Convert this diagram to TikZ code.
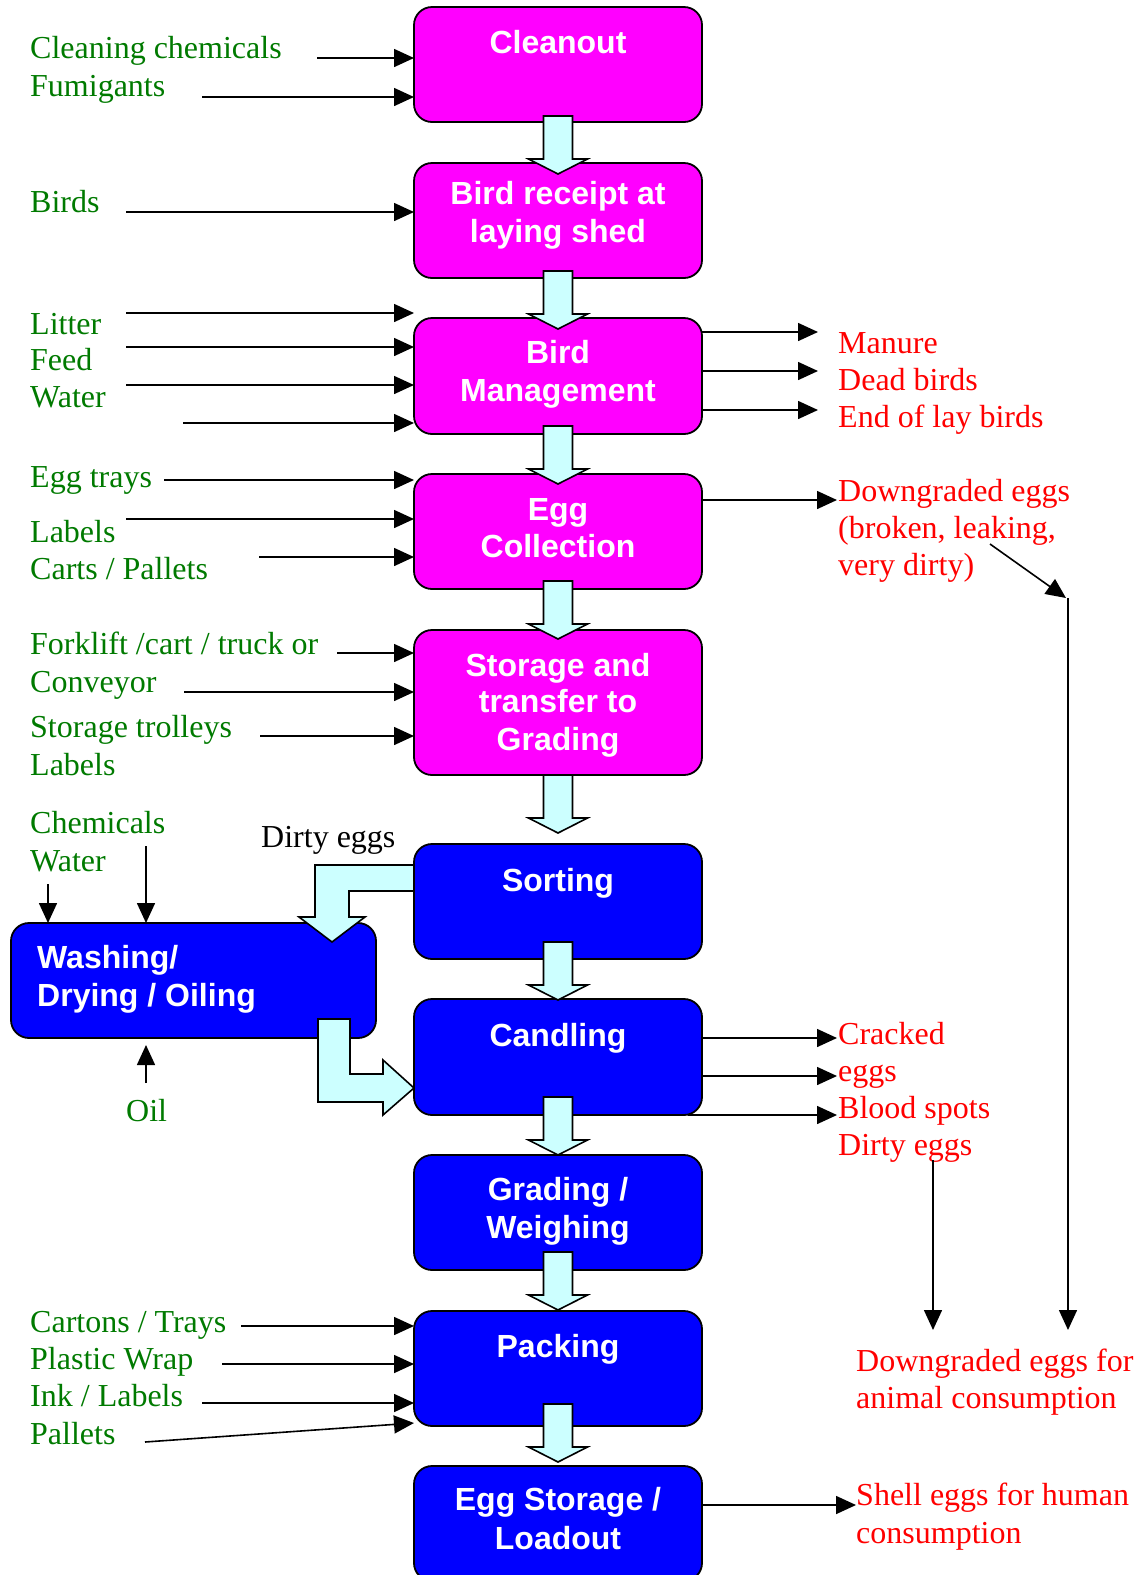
\documentclass[tikz,border=0pt]{standalone}
\usepackage{fontspec}
\setmainfont{Liberation Serif}
\newfontfamily\arialfont{Liberation Sans}
\usetikzlibrary{arrows.meta,calc}
\definecolor{procmag}{HTML}{FF00FF}
\definecolor{procblue}{HTML}{0000FF}
\definecolor{barfill}{HTML}{CCFFFF}
\definecolor{ingreen}{HTML}{007A00}
\definecolor{outred}{HTML}{FF0000}
\begin{document}
\begin{tikzpicture}[x=1pt,y=-1pt,
 proc/.style={draw=black, line width=1.8pt, rounded corners=18pt, minimum width=288pt, inner sep=0pt, outer sep=0pt},
 mag/.style={proc, fill=procmag},
 blu/.style={proc, fill=procblue},
 bt/.style={font=\arialfont\bfseries\fontsize{32}{38}\selectfont, text=white, anchor=base, inner sep=0pt},
 btl/.style={bt, anchor=base west},
 gt/.style={font=\fontsize{32}{37}\selectfont, text=ingreen, anchor=base west, inner sep=0pt},
 kt/.style={gt, text=black},
 rt/.style={gt, text=outred},
 conn/.style={line width=1.6pt, -{Triangle[length=20pt,width=18pt]}},
 barrow/.style={draw=black, line width=1.6pt, fill=barfill, line join=miter},
 bdown/.pic={\path[barrow] (-14.5,0) -- (14.5,0) -- (14.5,43) -- (29.5,43) -- (0,58) -- (-29.5,43) -- (-14.5,43) -- cycle;}
]
\useasboundingbox (0,0) rectangle (1139,1575);
\clip (0,0) rectangle (1139,1575);

% process boxes
\node[mag, minimum height=115pt] (cleanout) at (558,64.5) {};
\node[mag, minimum height=115pt] (receipt) at (558,220.5) {};
\node[mag, minimum height=116pt] (mgmt) at (558,376) {};
\node[mag, minimum height=115pt] (eggc) at (558,531.5) {};
\node[mag, minimum height=145pt] (store) at (558,702.5) {};
\node[blu, minimum height=115pt] (sorting) at (558,901.5) {};
\node[blu, minimum height=116pt] (candling) at (558,1057) {};
\node[blu, minimum height=115pt] (grading) at (558,1212.5) {};
\node[blu, minimum height=115pt] (packing) at (558,1368.5) {};
\node[blu, minimum height=115pt] (loadout) at (558,1523.5) {};
\node[blu, minimum height=115pt, minimum width=365pt] (washing) at (193.5,980.5) {};

% box texts
\node[bt] (t1) at (558,53) {Cleanout};
\node[bt] (t2a) at (558,204) {Bird receipt at};
\node[bt] (t2b) at (558,242) {laying shed};
\node[bt] (t3a) at (558,363) {Bird};
\node[bt] (t3b) at (558,401) {Management};
\node[bt] (t4a) at (558,520) {Egg};
\node[bt] (t4b) at (558,557) {Collection};
\node[bt] (t5a) at (558,676) {Storage and};
\node[bt] (t5b) at (558,712) {transfer to};
\node[bt] (t5c) at (558,750) {Grading};
\node[bt] (t6) at (558,891) {Sorting};
\node[bt] (t7) at (558,1046.5) {Candling};
\node[bt] (t8a) at (558,1200) {Grading /};
\node[bt] (t8b) at (558,1238) {Weighing};
\node[bt] (t9) at (558,1357) {Packing};
\node[bt] (t10a) at (558,1510.5) {Egg Storage /};
\node[bt] (t10b) at (558,1549) {Loadout};
\node[btl] (tw1) at (37,968) {Washing/};
\node[btl] (tw2) at (37,1006) {Drying / Oiling};

% block arrows between boxes
\pic at (558,116) {bdown};
\pic at (558,271) {bdown};
\pic at (558,426) {bdown};
\pic at (558,581) {bdown};
\pic at (558,775) {bdown};
\pic at (558,942) {bdown};
\pic at (558,1097) {bdown};
\pic at (558,1252) {bdown};
\pic at (558,1404) {bdown};
% dirty eggs to washing
\path[barrow] (sorting.west |- 0,865) -- (315,865) -- (315,917) -- (299,917) -- (332,942) -- (365,917) -- (349,917) -- (349,891) -- (sorting.west |- 0,891) -- cycle;
% washing to candling
\path[barrow] (318,1019) -- (350,1019) -- (350,1074) -- (383,1074) -- (383,1060) -- (candling.west |- 0,1088) -- (383,1115) -- (383,1102) -- (318,1102) -- cycle;

% green input labels
\node[gt] (g1) at (30,58.8) {Cleaning chemicals};
\node[gt] (g2) at (30,96.9) {Fumigants};
\node[gt] (g3) at (30,212.4) {Birds};
\node[gt] (g4) at (30,334) {Litter};
\node[gt] (g5) at (30,370) {Feed};
\node[gt] (g6) at (30,407.3) {Water};
\node[gt] (g7) at (30,487.6) {Egg trays};
\node[gt] (g8) at (30,542.9) {Labels};
\node[gt] (g9) at (30,579) {Carts / Pallets};
\node[gt] (g10) at (30,654.4) {Forklift /cart / truck or};
\node[gt] (g11) at (30,692.5) {Conveyor};
\node[gt] (g12) at (30,737.7) {Storage trolleys};
\node[gt] (g13) at (30,775) {Labels};
\node[gt] (g14) at (30,833) {Chemicals};
\node[gt] (g15) at (30,871) {Water};
\node[gt, anchor=base] (g16) at (146.6,1121.5) {Oil};
\node[gt] (g17) at (30,1332) {Cartons / Trays};
\node[gt] (g18) at (30,1369.5) {Plastic Wrap};
\node[gt] (g19) at (30,1406.7) {Ink / Labels};
\node[gt] (g20) at (30,1444) {Pallets};
\node[kt] (dirty) at (261,847) {Dirty eggs};

% red output labels
\node[rt] (r1) at (838,353) {Manure};
\node[rt] (r2) at (838,390) {Dead birds};
\node[rt] (r3) at (838,427.4) {End of lay birds};
\node[rt] (r4) at (838,501.7) {Downgraded eggs};
\node[rt] (r5) at (838,538.5) {(broken, leaking,};
\node[rt] (r6) at (838,575.5) {very dirty)};
\node[rt] (r7) at (838,1044) {Cracked};
\node[rt] (r8) at (838,1081) {eggs};
\node[rt] (r9) at (838,1118) {Blood spots};
\node[rt] (r10) at (838,1155) {Dirty eggs};
\node[rt] (r11) at (856,1371.5) {Downgraded eggs for};
\node[rt] (r12) at (856,1408.7) {animal consumption};
\node[rt] (r13) at (856,1505) {Shell eggs for human};
\node[rt] (r14) at (856,1543) {consumption};

% input arrows
\coordinate (a1) at (317,58);   \draw[conn] (a1) -- (a1 -| cleanout.west);
\coordinate (a2) at (202,97);   \draw[conn] (a2) -- (a2 -| cleanout.west);
\coordinate (a3) at (126,212);  \draw[conn] (a3) -- (a3 -| receipt.west);
\coordinate (a4) at (126,313);  \draw[conn] (a4) -- (a4 -| mgmt.west);
\coordinate (a5) at (126,347);  \draw[conn] (a5) -- (a5 -| mgmt.west);
\coordinate (a6) at (126,385);  \draw[conn] (a6) -- (a6 -| mgmt.west);
\coordinate (a7) at (183,423);  \draw[conn] (a7) -- (a7 -| mgmt.west);
\coordinate (a8) at (164,480);  \draw[conn] (a8) -- (a8 -| eggc.west);
\coordinate (a9) at (126,519);  \draw[conn] (a9) -- (a9 -| eggc.west);
\coordinate (a10) at (259,557); \draw[conn] (a10) -- (a10 -| eggc.west);
\coordinate (a11) at (337,653); \draw[conn] (a11) -- (a11 -| store.west);
\coordinate (a12) at (184,692); \draw[conn] (a12) -- (a12 -| store.west);
\coordinate (a13) at (260,736); \draw[conn] (a13) -- (a13 -| store.west);
\coordinate (a14) at (241,1326); \draw[conn] (a14) -- (a14 -| packing.west);
\coordinate (a15) at (222,1364); \draw[conn] (a15) -- (a15 -| packing.west);
\coordinate (a16) at (202,1403); \draw[conn] (a16) -- (a16 -| packing.west);
\coordinate (a17) at (145,1442); \coordinate (a17e) at (0,1423);
\draw[conn] (a17) -- (packing.west |- a17e);
% washing inputs
\coordinate (w1) at (48,884);  \draw[conn] (w1) -- (w1 |- washing.north);
\coordinate (w2) at (146,846); \draw[conn] (w2) -- (w2 |- washing.north);
\coordinate (w3) at (146,1083); \coordinate (w3e) at (146,1045);
\draw[conn] (w3) -- (w3e);

% output arrows
\coordinate (o1) at (818,332); \draw[conn] (o1 -| mgmt.east) -- (o1);
\coordinate (o2) at (818,371); \draw[conn] (o2 -| mgmt.east) -- (o2);
\coordinate (o3) at (818,410); \draw[conn] (o3 -| mgmt.east) -- (o3);
\coordinate (o4) at (837,500); \draw[conn] (o4 -| eggc.east) -- (o4);
\coordinate (d1) at (990,544); \coordinate (d2) at (1066,598);
\draw[conn] (d1) -- (d2);
\coordinate (d3) at (1068,598); \coordinate (d4) at (1068,1330);
\draw[conn] (d3) -- (d4);
\coordinate (o5) at (837,1038); \draw[conn] (o5 -| candling.east) -- (o5);
\coordinate (o6) at (837,1076); \draw[conn] (o6 -| candling.east) -- (o6);
\coordinate (o7) at (837,1115); \coordinate (o7s) at (688,1115);
\draw[conn] (o7s) -- (o7);
\coordinate (e1) at (933,1160); \coordinate (e2) at (933,1330);
\draw[conn] (e1) -- (e2);
\coordinate (o8) at (856,1505); \draw[conn] (o8 -| loadout.east) -- (o8);
\end{tikzpicture}
\end{document}
